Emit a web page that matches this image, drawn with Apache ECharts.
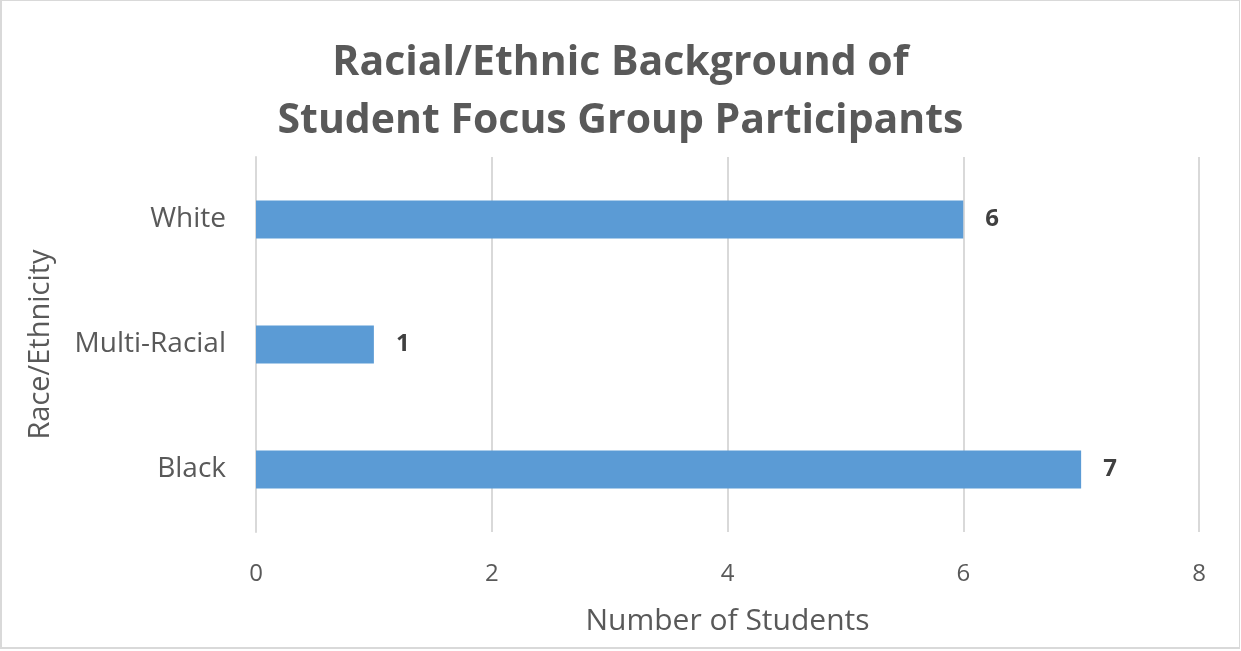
<!DOCTYPE html>
<html>
<head>
<meta charset="utf-8">
<script src="https://cdn.jsdelivr.net/npm/echarts@6/dist/echarts.min.js"></script>
<style>
  html, body { margin: 0; padding: 0; background: #fff; }
  #chart { width: 1237px; height: 646px; border: 2px solid #d9d9d9; border-top: 1px solid #d9d9d9; border-right: 1px solid #d9d9d9; }
</style>
</head>
<body>
<div id="chart"></div>
<script>
var categories = ['Black', 'Multi-Racial', 'White'];
var students = [7, 1, 6];
var xTicks = [0, 2, 4, 6, 8];

var chart = echarts.init(document.getElementById('chart'));
var font = '"Open Sans", "Noto Sans", sans-serif';

chart.setOption({
    title: {
        text: 'Racial/Ethnic Background of\nStudent Focus Group Participants',
        left: 'center',
        top: 28,
        textStyle: {
            fontFamily: font,
            fontSize: 41,
            fontWeight: 'bold',
            color: '#595959',
            lineHeight: 58
        }
    },
    grid: {
        left: 254,
        right: 40,
        top: 156,
        bottom: 115
    },
    xAxis: {
        type: 'value',
        min: 0,
        max: xTicks[xTicks.length - 1],
        interval: 2,
        name: 'Number of Students',
        nameLocation: 'middle',
        nameGap: 74,
        nameTextStyle: { fontFamily: font, fontSize: 30, color: '#595959' },
        axisLabel: { fontFamily: font, fontSize: 24, color: '#595959', margin: 30 },
        axisLine: { show: false },
        axisTick: { show: false },
        splitLine: { lineStyle: { color: '#d9d9d9', width: 2 } }
    },
    yAxis: {
        type: 'category',
        data: categories,
        name: 'Race/Ethnicity',
        nameLocation: 'middle',
        nameGap: 201,
        nameRotate: 90,
        nameTextStyle: { fontFamily: font, fontSize: 29, color: '#595959' },
        axisLabel: { fontFamily: font, fontSize: 28, color: '#595959', margin: 30 },
        axisLine: { show: true, lineStyle: { color: '#d9d9d9', width: 2 } },
        axisTick: { show: false }
    },
    series: [{
        type: 'bar',
        data: students,
        barWidth: 38,
        itemStyle: { color: '#5B9BD5' },
        label: {
            show: true,
            position: 'right',
            distance: 22,
            fontFamily: font,
            fontSize: 24,
            fontWeight: 'bold',
            color: '#404040'
        }
    }]
});
</script>
</body>
</html>
